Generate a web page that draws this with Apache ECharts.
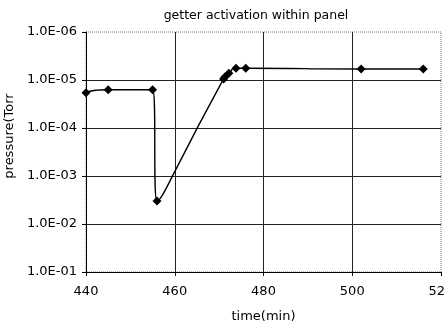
<!DOCTYPE html>
<html><head><meta charset="utf-8">
<script src="https://cdn.jsdelivr.net/npm/echarts@6/dist/echarts.min.js"></script>
<style>html,body{margin:0;padding:0;background:#fff}#c{width:444px;height:326px}</style>
</head><body><div id="c"></div>
<script>
const times = [440, 445, 455, 456, 471, 471.3, 472.2, 473.8, 476, 502, 516];
const pressures = [1.85e-5, 1.6e-5, 1.6e-5, 3.3e-3, 0.95e-5, 0.87e-5, 0.72e-5, 0.57e-5, 0.57e-5, 0.59e-5, 0.59e-5];
const xTicks = [440, 460, 480, 500, 520];
const yTicks = [1e-6, 1e-5, 1e-4, 1e-3, 1e-2, 1e-1];

const chart = echarts.init(document.getElementById('c'));
const font = 'DejaVu Sans, sans-serif';
chart.setOption({
  animation: false,
  title: {text: 'getter activation within panel', left: 251, top: 4, textAlign: 'center',
    textStyle: {fontFamily: font, fontSize: 12.5, fontWeight: 'normal', color: '#000'}},
  grid: {left: 86, right: 3, top: 32, bottom: 54, outerBoundsMode: 'none', containLabel: false,
    show: true, borderColor: '#777', borderWidth: 1, borderType: 'dotted'},
  xAxis: {type: 'value', min: xTicks[0], max: xTicks[xTicks.length-1], interval: 20,
    name: 'time(min)', nameLocation: 'middle', nameGap: 38,
    nameTextStyle: {fontFamily: font, fontSize: 13, color: '#000'},
    axisLine: {show: true, lineStyle: {color: '#000', width: 1}},
    axisTick: {show: true, length: 4, lineStyle: {color: '#000'}},
    axisLabel: {fontFamily: font, fontSize: 13, color: '#000', margin: 13, hideOverlap: false},
    splitLine: {show: true, showMinLine: false, showMaxLine: false, lineStyle: {color: '#222', width: 1}}},
  yAxis: {type: 'log', inverse: true, min: yTicks[0], max: yTicks[yTicks.length-1], logBase: 10,
    name: 'pressure(Torr', nameLocation: 'middle', nameGap: 54, nameRotate: 90,
    nameTextStyle: {fontFamily: font, fontSize: 13, color: '#000', padding: [0, 0, 0, 32]},
    axisLine: {show: true, lineStyle: {color: '#000', width: 1}},
    axisTick: {show: true, length: 4, lineStyle: {color: '#000'}},
    axisLabel: {fontFamily: font, fontSize: 13, color: '#000', margin: 9,
      formatter: v => { const e = Math.round(Math.log10(v)); return '1.0E' + (e < 0 ? '-' : '+') + String(Math.abs(e)).padStart(2, '0'); }},
    splitLine: {show: true, showMinLine: false, showMaxLine: false, lineStyle: {color: '#222', width: 1}}},
  series: [{type: 'line', data: times.map((t, i) => [t, pressures[i]]),
    smooth: 0.8, symbol: 'diamond', symbolSize: 9,
    itemStyle: {color: '#000'}, lineStyle: {color: '#000', width: 1.4}}]
});
</script></body></html>
